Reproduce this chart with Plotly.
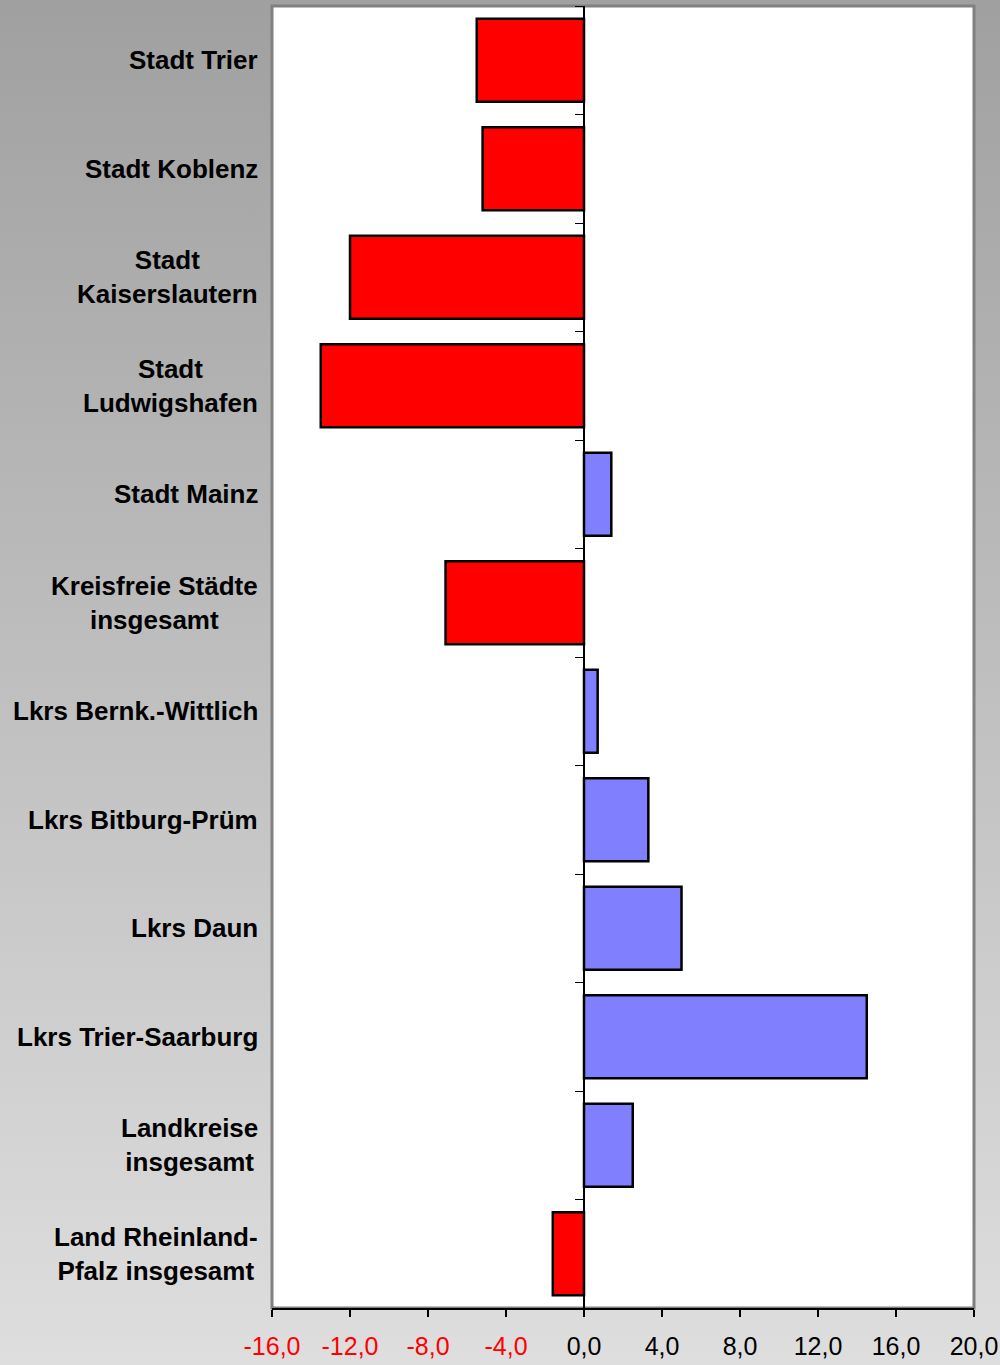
import base64
import plotly.graph_objects as go

# Regions (top to bottom) and their change values in percent
regions = [
    "Stadt Trier",
    "Stadt Koblenz",
    "Stadt<br>Kaiserslautern",
    "Stadt<br>Ludwigshafen",
    "Stadt Mainz",
    "Kreisfreie Städte<br>insgesamt",
    "Lkrs Bernk.-Wittlich",
    "Lkrs Bitburg-Prüm",
    "Lkrs Daun",
    "Lkrs Trier-Saarburg",
    "Landkreise<br>insgesamt",
    "Land Rheinland-<br>Pfalz insgesamt",
]
values = [-5.5, -5.2, -12.0, -13.5, 1.4, -7.1, 0.7, 3.3, 5.0, 14.5, 2.5, -1.6]

x_ticks = [-16, -12, -8, -4, 0, 4, 8, 12, 16, 20]

FONT = "Liberation Sans, Arial, sans-serif"
NEG_COLOR = "#FF0000"
POS_COLOR = "#8080FF"

bar_colors = [NEG_COLOR if v < 0 else POS_COLOR for v in values]


def tick_text(v):
    s = f"{v:.1f}".replace(".", ",")
    if v < 0:
        return f"<span style='color:{NEG_COLOR}'>{s}</span>"
    return s


fig = go.Figure(
    go.Bar(
        x=values,
        y=regions,
        orientation="h",
        marker=dict(color=bar_colors, line=dict(color="black", width=2.5)),
        hoverinfo="x+y",
    )
)

# Vertical grey gradient behind the whole figure
svg = (
    "<svg xmlns='http://www.w3.org/2000/svg' width='10' height='100' preserveAspectRatio='none'>"
    "<defs><linearGradient id='g' x1='0' y1='0' x2='0' y2='1'>"
    "<stop offset='0' stop-color='#a0a0a0'/><stop offset='1' stop-color='#dedede'/>"
    "</linearGradient></defs><rect width='10' height='100' fill='url(#g)'/></svg>"
)
svg_uri = "data:image/svg+xml;base64," + base64.b64encode(svg.encode()).decode()

W, H = 1000, 1365
ML, MR, MT, MB = 272, 26, 6, 57
pw, ph = W - ML - MR, H - MT - MB

fig.add_layout_image(
    source=svg_uri,
    xref="paper", yref="paper",
    x=-ML / pw, y=1 + MT / ph,
    sizex=W / pw, sizey=H / ph,
    xanchor="left", yanchor="top",
    sizing="stretch", layer="below",
)

# White plot area with grey frame
fig.add_shape(
    type="rect", xref="paper", yref="paper", x0=0, x1=1, y0=0, y1=1,
    fillcolor="white", line=dict(color="#808080", width=3), layer="below",
)

# Category labels, centred lines right-aligned to the plot edge
for name in regions:
    fig.add_annotation(
        x=0, xref="paper", y=name, yref="y",
        text=name, showarrow=False,
        xanchor="right", align="center", xshift=-12,
        font=dict(family=FONT, size=26, color="black", weight="bold"),
    )

fig.update_layout(
    width=W, height=H,
    margin=dict(l=ML, r=MR, t=MT, b=MB, autoexpand=False),
    paper_bgcolor="rgba(0,0,0,0)",
    plot_bgcolor="rgba(0,0,0,0)",
    bargap=0.235,
    showlegend=False,
    font=dict(family=FONT, color="black"),
)

fig.update_xaxes(
    range=[-16, 20],
    tickvals=x_ticks,
    ticktext=[tick_text(v) for v in x_ticks],
    ticks="outside", ticklen=7, tickwidth=1.5, tickcolor="black",
    showline=True, linecolor="black", linewidth=2,
    showgrid=False, zeroline=False, automargin=False,
    tickfont=dict(family=FONT, size=25, color="black"),
    ticklabelstandoff=8,
)

fig.update_yaxes(
    categoryorder="array", categoryarray=regions,
    range=[len(regions) - 0.5, -0.5],
    anchor="free", position=16 / 36,
    showline=True, linecolor="black", linewidth=2,
    ticks="outside", tickson="boundaries", ticklen=8, tickwidth=1, tickcolor="black",
    showticklabels=False, showgrid=False, zeroline=False, automargin=False,
)

fig.write_html("out.html")
